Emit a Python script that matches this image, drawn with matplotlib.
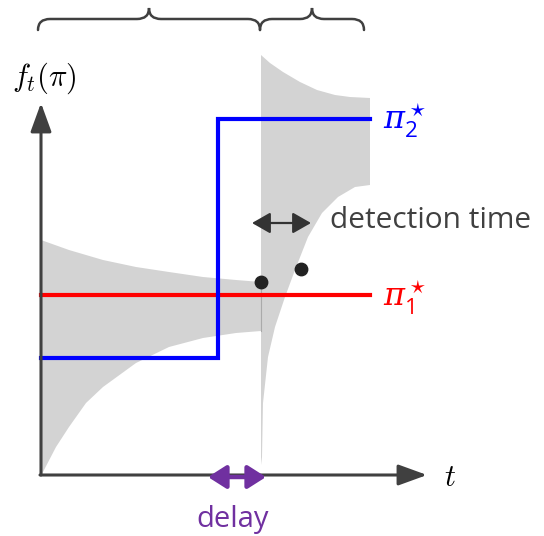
import numpy as np
import matplotlib
matplotlib.use('Agg')
import matplotlib.pyplot as plt
from matplotlib.path import Path
from matplotlib.patches import PathPatch

# schematic coordinates: t to the right of the y axis, f above the t axis
# confidence band before the change
band1_t = [0, 2, 15, 28, 45, 62, 95, 128, 162, 195, 220]
band1_lo = [0, 3, 28, 48, 72, 88, 112, 128, 137, 142, 144]
band1_up_t = [0, 28, 62, 95, 128, 162, 195, 220]
band1_up = [235, 225, 215, 208, 203, 198, 195, 193]

# confidence band after the change
band2_up_t = [220, 229, 242, 259, 276, 294, 309, 329]
band2_up = [420, 412, 403, 393, 385, 380, 378, 377]
band2_lo_t = [220, 221, 222, 227, 234, 244, 254, 267, 281, 297, 314, 329]
band2_lo = [10, 18, 72, 118, 148, 178, 205, 238, 262, 278, 288, 290]

# the two policies
change_t = 177
detect_t = 220
end_t = 329
pi1_level = 180
pi2_before, pi2_after = 117, 356

# estimates
dots_t = [220, 260]
dots_f = [193, 206]

GRAY = '#d3d3d3'
DARK = '#404040'
PURPLE = '#7030a0'
SANS = ['Open Sans', 'DejaVu Sans']

plt.rcParams['mathtext.fontset'] = 'custom'
plt.rcParams['mathtext.it'] = 'DejaVu Serif:italic'
plt.rcParams['mathtext.rm'] = 'Open Sans'

fig = plt.figure(figsize=(5.44, 5.36), dpi=100)
ax = fig.add_axes([0, 0, 1, 1])
ax.set_xlim(-41, 503)
ax.set_ylim(-61, 475)
ax.axis('off')

# shaded bands
poly1_t = list(band1_t) + list(band1_up_t[::-1])
poly1_f = list(band1_lo) + list(band1_up[::-1])
ax.fill(poly1_t, poly1_f, color=GRAY, lw=0, zorder=1)
poly2_t = list(band2_lo_t) + list(band2_up_t[::-1])
poly2_f = list(band2_lo) + list(band2_up[::-1])
ax.fill(poly2_t, poly2_f, color=GRAY, lw=0, zorder=1)
ax.plot([detect_t, detect_t], [band1_lo[-1], band1_up[-1]], color='#aaaaaa', lw=0.8, zorder=2)

# policies
ax.plot([0, end_t], [pi1_level, pi1_level], color='#ff0000', lw=3, zorder=3)
ax.plot([0, change_t, change_t, end_t], [pi2_before, pi2_before, pi2_after, pi2_after],
        color='#0000ff', lw=3, zorder=4, solid_joinstyle='miter')
ax.scatter(dots_t, dots_f, s=80, color='#222222', zorder=5)

# axes with arrows
ax.annotate('', xy=(0, 372), xytext=(0, 0),
            arrowprops=dict(arrowstyle='-|>,head_length=1.1,head_width=0.4', color=DARK,
                            lw=2.2, shrinkA=0, shrinkB=0, mutation_scale=16), zorder=6)
ax.annotate('', xy=(386, 0), xytext=(-1, 0),
            arrowprops=dict(arrowstyle='-|>,head_length=1.1,head_width=0.4', color=DARK,
                            lw=2.2, shrinkA=0, shrinkB=0, mutation_scale=16), zorder=6)

ax.text(3, 397, r'$f_t(\pi)$', fontsize=22, ha='center', va='center', math_fontfamily='cm')
ax.text(409, -3, r'$t$', fontsize=22, ha='center', va='center', math_fontfamily='cm')
ax.text(342, 355, r'$\pi_{\mathrm{2}}^\star$', fontsize=23, color='#0000ff', ha='left',
        va='center', math_fontfamily='custom')
ax.text(342, 178, r'$\pi_{\mathrm{1}}^\star$', fontsize=23, color='#ff0000', ha='left',
        va='center', math_fontfamily='custom')

# detection time
ax.annotate('', xy=(270, 252), xytext=(211, 252),
            arrowprops=dict(arrowstyle='<|-|>,head_length=0.7,head_width=0.4', color='#333333',
                            lw=1.6, shrinkA=0, shrinkB=0, mutation_scale=16), zorder=6)
ax.text(289, 255, 'detection time', fontsize=21.5, color=DARK, ha='left', va='center', family=SANS)

# delay
ax.annotate('', xy=(225, -2), xytext=(167, -2),
            arrowprops=dict(arrowstyle='<|-|>,head_length=0.55,head_width=0.35', color=PURPLE,
                            lw=3.2, shrinkA=0, shrinkB=0, mutation_scale=20), zorder=7)
ax.text(192, -45, 'delay', fontsize=21, color=PURPLE, ha='center', va='center', family=SANS)


# braces on top
def brace(x0, x1, yb=445, ym=456, yt=467, r=12):
    xm = (x0 + x1) / 2
    verts = [(x0, yb), (x0, ym), (x0 + r, ym), (xm - r, ym), (xm, ym), (xm, yt),
             (xm, ym), (xm + r, ym), (x1 - r, ym), (x1, ym), (x1, yb)]
    codes = [Path.MOVETO, Path.CURVE3, Path.CURVE3, Path.LINETO, Path.CURVE3, Path.CURVE3,
             Path.CURVE3, Path.CURVE3, Path.LINETO, Path.CURVE3, Path.CURVE3]
    ax.add_patch(PathPatch(Path(verts, codes), fc='none', ec=DARK, lw=1.8, capstyle='round'))


brace(-3, detect_t - 1)
brace(detect_t - 1, 323)

plt.savefig('out.png', dpi=100)
